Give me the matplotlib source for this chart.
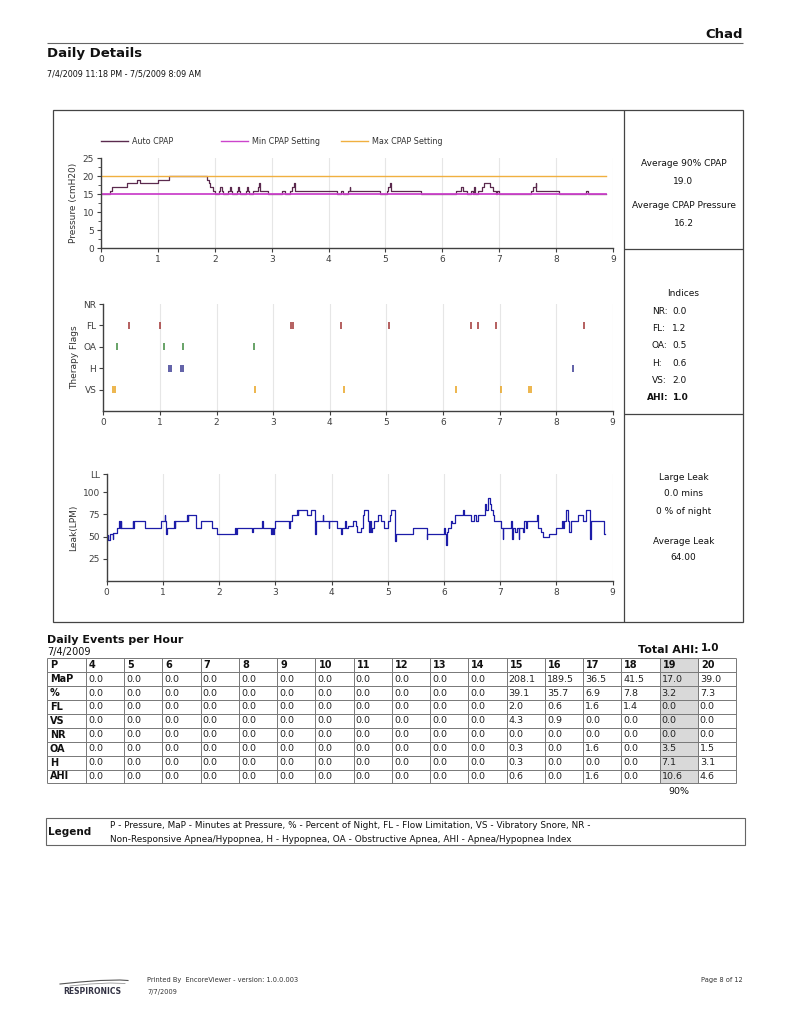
import matplotlib
matplotlib.use('Agg')
import matplotlib.pyplot as plt
from matplotlib.patches import Rectangle
from matplotlib.ticker import MultipleLocator

plt.rcParams['font.family'] = ['DejaVu Sans']

# ---- pressure (cmH2O) step trace, hours since start ----
pressure_steps = [
    (0.00, 15), (0.16, 16), (0.20, 17), (0.46, 18), (0.63, 19), (0.69, 18),
    (1.00, 19), (1.20, 20), (1.86, 19), (1.89, 18), (1.92, 17), (1.96, 16),
    (2.00, 15), (2.08, 16), (2.10, 17), (2.12, 16), (2.14, 15), (2.24, 16),
    (2.26, 17), (2.28, 16), (2.30, 15), (2.39, 16), (2.41, 17), (2.43, 16),
    (2.45, 15), (2.55, 16), (2.57, 17), (2.59, 16), (2.61, 15), (2.68, 16),
    (2.76, 17), (2.78, 18), (2.79, 16), (2.93, 15), (3.18, 16), (3.24, 15),
    (3.33, 16), (3.36, 17), (3.39, 18), (3.41, 16), (4.15, 15), (4.22, 16),
    (4.26, 15), (4.35, 16), (4.37, 17), (4.38, 16), (4.90, 15), (5.02, 16),
    (5.05, 17), (5.08, 18), (5.10, 16), (5.62, 15), (6.24, 16), (6.32, 17),
    (6.37, 16), (6.44, 15), (6.51, 16), (6.54, 15), (6.56, 17), (6.57, 15),
    (6.63, 16), (6.69, 17), (6.73, 18), (6.83, 17), (6.89, 16), (6.94, 15),
    (6.96, 16), (7.00, 15), (7.55, 16), (7.60, 17), (7.64, 18), (7.65, 16),
    (8.05, 15), (8.52, 16), (8.56, 15), (8.88, 15),
]
setting_hours = [0.0, 8.88]
min_cpap = [15, 15]
max_cpap = [20, 20]

# ---- therapy flag events (hours) ----
flag_rows = ['VS', 'H', 'OA', 'FL', 'NR']
nr_events = []
fl_events = [0.46, 1.00, 3.31, 3.36, 4.20, 5.05, 6.50, 6.62, 6.93, 8.50]
oa_events = [0.24, 1.08, 1.41, 2.67]
h_events = [1.16, 1.20, 1.37, 1.41, 8.30]
vs_events = [0.18, 0.21, 2.68, 4.25, 6.24, 7.03, 7.53, 7.56]

# ---- leak (LPM) step trace ----
leak_steps = [
    (0.00, 47), (0.02, 52), (0.03, 46), (0.05, 53), (0.10, 53), (0.11, 47),
    (0.12, 54), (0.19, 60), (0.22, 67), (0.23, 60), (0.25, 67), (0.26, 60),
    (0.46, 67), (0.47, 60), (0.48, 67), (0.68, 60), (0.97, 67), (1.03, 74),
    (1.04, 67), (1.06, 53), (1.07, 60), (1.19, 67), (1.21, 60), (1.22, 67),
    (1.42, 74), (1.44, 67), (1.45, 74), (1.58, 60), (1.67, 67), (1.88, 60),
    (1.97, 53), (2.29, 60), (2.30, 53), (2.31, 60), (2.58, 55), (2.60, 60),
    (2.77, 67), (2.78, 60), (2.93, 53), (2.94, 60), (2.96, 53), (2.97, 60),
    (3.00, 67), (3.24, 60), (3.26, 67), (3.30, 74), (3.38, 80), (3.40, 74),
    (3.41, 80), (3.57, 74), (3.63, 80), (3.71, 53), (3.72, 67), (3.84, 74),
    (3.85, 67), (3.95, 60), (3.96, 67), (4.10, 60), (4.17, 53), (4.18, 60),
    (4.24, 67), (4.25, 60), (4.29, 62), (4.38, 67), (4.44, 62), (4.46, 55),
    (4.53, 60), (4.56, 74), (4.58, 80), (4.64, 67), (4.67, 55), (4.69, 67),
    (4.70, 55), (4.72, 60), (4.75, 67), (4.82, 74), (4.88, 67), (4.94, 60),
    (5.00, 67), (5.04, 74), (5.06, 80), (5.12, 74), (5.13, 45), (5.14, 53),
    (5.44, 60), (5.69, 47), (5.70, 53), (6.00, 60), (6.02, 53), (6.03, 40),
    (6.05, 55), (6.07, 60), (6.13, 67), (6.15, 65), (6.19, 74), (6.33, 80),
    (6.35, 74), (6.48, 67), (6.54, 74), (6.56, 67), (6.60, 74), (6.66, 74),
    (6.72, 87), (6.75, 80), (6.78, 93), (6.81, 87), (6.84, 80), (6.87, 74),
    (6.89, 67), (7.02, 60), (7.04, 47), (7.05, 60), (7.19, 67), (7.21, 47),
    (7.22, 60), (7.27, 55), (7.29, 60), (7.33, 47), (7.34, 60), (7.40, 55),
    (7.42, 60), (7.43, 67), (7.46, 60), (7.47, 67), (7.65, 74), (7.67, 60),
    (7.72, 55), (7.76, 50), (7.87, 53), (7.99, 60), (8.10, 67), (8.12, 60),
    (8.14, 67), (8.17, 80), (8.21, 67), (8.23, 55), (8.25, 67), (8.38, 74),
    (8.47, 67), (8.52, 80), (8.60, 47), (8.61, 67), (8.85, 53), (8.86, 53),
]

# ---- daily events per hour table ----
pressures = ['4', '5', '6', '7', '8', '9', '10', '11', '12', '13', '14',
             '15', '16', '17', '18', '19', '20']
z11 = [0.0] * 11
map_row = z11 + [208.1, 189.5, 36.5, 41.5, 17.0, 39.0]
pct_row = z11 + [39.1, 35.7, 6.9, 7.8, 3.2, 7.3]
fl_row = z11 + [2.0, 0.6, 1.6, 1.4, 0.0, 0.0]
vs_row = z11 + [4.3, 0.9, 0.0, 0.0, 0.0, 0.0]
nr_row = z11 + [0.0, 0.0, 0.0, 0.0, 0.0, 0.0]
oa_row = z11 + [0.3, 0.0, 1.6, 0.0, 3.5, 1.5]
h_row = z11 + [0.3, 0.0, 0.0, 0.0, 7.1, 3.1]
ahi_row = z11 + [0.6, 0.0, 1.6, 0.0, 10.6, 4.6]
row_names = ['MaP', '%', 'FL', 'VS', 'NR', 'OA', 'H', 'AHI']
row_data = [map_row, pct_row, fl_row, vs_row, nr_row, oa_row, h_row, ahi_row]

W, H = 791, 1024
fig = plt.figure(figsize=(W / 100, H / 100), dpi=100)
fig.patch.set_facecolor('white')

# page layer in pixel coordinates
page = fig.add_axes([0, 0, 1, 1])
page.set_xlim(0, W)
page.set_ylim(H, 0)
page.axis('off')

def txt(x, y, s, size=6.5, **kw):
    page.text(x, y, s, fontsize=size, va='center', color=kw.pop('color', '#111111'), **kw)

def hline(x0, x1, y, color='#555555', lw=0.9):
    page.plot([x0, x1], [y, y], color=color, lw=lw, solid_capstyle='butt')

def vline(x, y0, y1, color='#555555', lw=0.9):
    page.plot([x, x], [y0, y1], color=color, lw=lw, solid_capstyle='butt')

# header
txt(743, 34, 'Chad', size=9.5, weight='bold', ha='right')
hline(47, 743, 43, color='#666666', lw=0.8)
txt(47, 54, 'Daily Details', size=9.5, weight='bold')
txt(47, 74, '7/4/2009 11:18 PM - 7/5/2009 8:09 AM', size=5.8)

# chart frame
page.add_patch(Rectangle((53, 110), 690, 512, fill=False, ec='#444444', lw=0.9))
vline(624, 110, 622, color='#444444')
hline(624, 743, 249, color='#444444')
hline(624, 743, 414, color='#444444')

cx = 683.5
txt(cx, 163, 'Average 90% CPAP', ha='center')
txt(cx, 182, '19.0', ha='center')
txt(cx, 205, 'Average CPAP Pressure', ha='center')
txt(cx, 224, '16.2', ha='center')

txt(cx, 293, 'Indices', ha='center')
idx_labels = ['NR:', 'FL:', 'OA:', 'H:', 'VS:']
idx_values = ['0.0', '1.2', '0.5', '0.6', '2.0']
for i, (lab, val) in enumerate(zip(idx_labels, idx_values)):
    y = 311 + i * 17.4
    txt(652, y, lab)
    txt(672, y, val)
txt(647, 398, 'AHI:', weight='bold')
txt(672, 398, '1.0', weight='bold')

txt(cx, 477, 'Large Leak', ha='center')
txt(cx, 494, '0.0 mins', ha='center')
txt(cx, 511, '0 % of night', ha='center')
txt(cx, 541, 'Average Leak', ha='center')
txt(cx, 558, '64.00', ha='center')

# legend of the pressure chart
legend_items = [('Auto CPAP', '#5b2a4e', 101), ('Min CPAP Setting', '#cc44cc', 221),
                ('Max CPAP Setting', '#f0b040', 341)]
for name, col, x0 in legend_items:
    page.plot([x0, x0 + 27], [141, 141], color=col, lw=1.0)
    txt(x0 + 31, 141, name, size=5.8, color='#333333')


def frac(left, top, right, bottom):
    return [left / W, 1 - bottom / H, (right - left) / W, (bottom - top) / H]


def style_axes(ax):
    for side in ['top', 'right']:
        ax.spines[side].set_visible(False)
    for side in ['left', 'bottom']:
        ax.spines[side].set_color('#404040')
        ax.spines[side].set_linewidth(1.0)
    ax.set_facecolor('none')
    ax.set_xlim(0, 9)
    ax.set_xticks(range(10))
    ax.tick_params(axis='both', labelsize=6.5, colors='#404040', length=3, width=0.8, pad=2)
    ax.grid(axis='x', color='#e6e6e6', lw=0.8)
    ax.set_axisbelow(True)


# pressure chart
ax1 = fig.add_axes(frac(101, 158.3, 613, 248.3))
style_axes(ax1)
ph = [p[0] for p in pressure_steps]
pv = [p[1] for p in pressure_steps]
ax1.step(ph, pv, where='post', color='#5b2a4e', lw=0.9)
ax1.plot(setting_hours, min_cpap, color='#cc44cc', lw=1.3)
ax1.plot(setting_hours, max_cpap, color='#f0b040', lw=1.0)
ax1.set_ylim(0, 25)
ax1.set_yticks([0, 5, 10, 15, 20, 25])
ax1.yaxis.set_minor_locator(MultipleLocator(2.5))
ax1.tick_params(axis='y', which='minor', length=2, color='#404040')
ax1.set_ylabel('Pressure (cmH20)', fontsize=6.5, color='#333333', labelpad=3)

# therapy flags chart
ax2 = fig.add_axes(frac(103.3, 304, 612.7, 411))
style_axes(ax2)
flag_colors = {'FL': '#a03434', 'OA': '#3f8a3f', 'H': '#35358f', 'VS': '#e8a21c', 'NR': '#555555'}
flag_events = {'NR': nr_events, 'FL': fl_events, 'OA': oa_events, 'H': h_events, 'VS': vs_events}
for i, name in enumerate(flag_rows):
    ev = flag_events[name]
    if ev:
        ax2.vlines(ev, i + 1 - 0.17, i + 1 + 0.17, color=flag_colors[name], lw=1.1)
ax2.set_ylim(0, 5)
ax2.set_yticks(range(1, 6))
ax2.set_yticklabels(flag_rows)
ax2.set_ylabel('Therapy Flags', fontsize=6.5, color='#333333', labelpad=3)

# leak chart
ax3 = fig.add_axes(frac(106.7, 474.4, 612.7, 581))
style_axes(ax3)
lh = [p[0] for p in leak_steps]
lv = [p[1] for p in leak_steps]
ax3.step(lh, lv, where='post', color='#1c1ca8', lw=0.9)
ax3.set_ylim(0, 120)
ax3.set_yticks([25, 50, 75, 100, 120])
ax3.set_yticklabels(['25', '50', '75', '100', 'LL'])
ax3.set_ylabel('Leak(LPM)', fontsize=6.5, color='#333333', labelpad=3)

# daily events table
txt(47, 640, 'Daily Events per Hour', size=8, weight='bold')
txt(47, 652, '7/4/2009', size=7)
txt(699, 650, 'Total AHI:', size=8, weight='bold', ha='right')
txt(701, 648, '1.0', size=7.5, weight='bold')

top, rh = 658.3, 13.9
col_x = [47, 86] + [86 + (i + 1) * 38.24 for i in range(len(pressures))]
n_rows = len(row_names) + 1
hl_col = pressures.index('19') + 1
page.add_patch(Rectangle((col_x[hl_col], top), col_x[hl_col + 1] - col_x[hl_col],
                         rh * n_rows, color='#d9d9d9', lw=0))
for c in range(len(col_x)):
    vline(col_x[c], top, top + rh * n_rows, color='#777777', lw=0.7)
for r in range(n_rows + 1):
    hline(col_x[0], col_x[-1], top + r * rh, color='#777777', lw=0.7)

header = ['P'] + pressures
for c, h in enumerate(header):
    txt(col_x[c] + 3, top + rh / 2, h, size=7, weight='bold')
for r, (name, vals) in enumerate(zip(row_names, row_data)):
    y = top + (r + 1.5) * rh
    txt(col_x[0] + 3, y, name, size=7, weight='bold')
    for c, v in enumerate(vals):
        txt(col_x[c + 1] + 2, y, f'{v:.1f}', size=6.8, color='#222222')
txt((col_x[hl_col] + col_x[hl_col + 1]) / 2, 791, '90%', size=6.8, ha='center')

# legend box
page.add_patch(Rectangle((46, 818), 699, 27, fill=False, ec='#666666', lw=0.8))
txt(48, 832, 'Legend', size=7.5, weight='bold')
txt(110, 826, 'P - Pressure, MaP - Minutes at Pressure, % - Percent of Night, FL - Flow Limitation, '
    'VS - Vibratory Snore, NR -', size=6.4)
txt(110, 840, 'Non-Responsive Apnea/Hypopnea, H - Hypopnea, OA - Obstructive Apnea, '
    'AHI - Apnea/Hypopnea Index', size=6.4)

# footer
page.plot([60, 80, 100, 120, 128], [984, 982, 980.5, 980, 980.5], color='#555555', lw=0.8)
page.plot([70, 90, 110, 125], [986, 984, 983, 983.5], color='#999999', lw=0.6)
txt(92, 991, 'RESPIRONICS', size=5.5, weight='bold', ha='center', color='#333344')
txt(147, 980, 'Printed By  EncoreViewer - version: 1.0.0.003', size=4.8, color='#333333')
txt(147, 992, '7/7/2009', size=4.8, color='#333333')
txt(743, 980, 'Page 8 of 12', size=4.8, ha='right', color='#333333')

fig.savefig('out.png', dpi=100)
